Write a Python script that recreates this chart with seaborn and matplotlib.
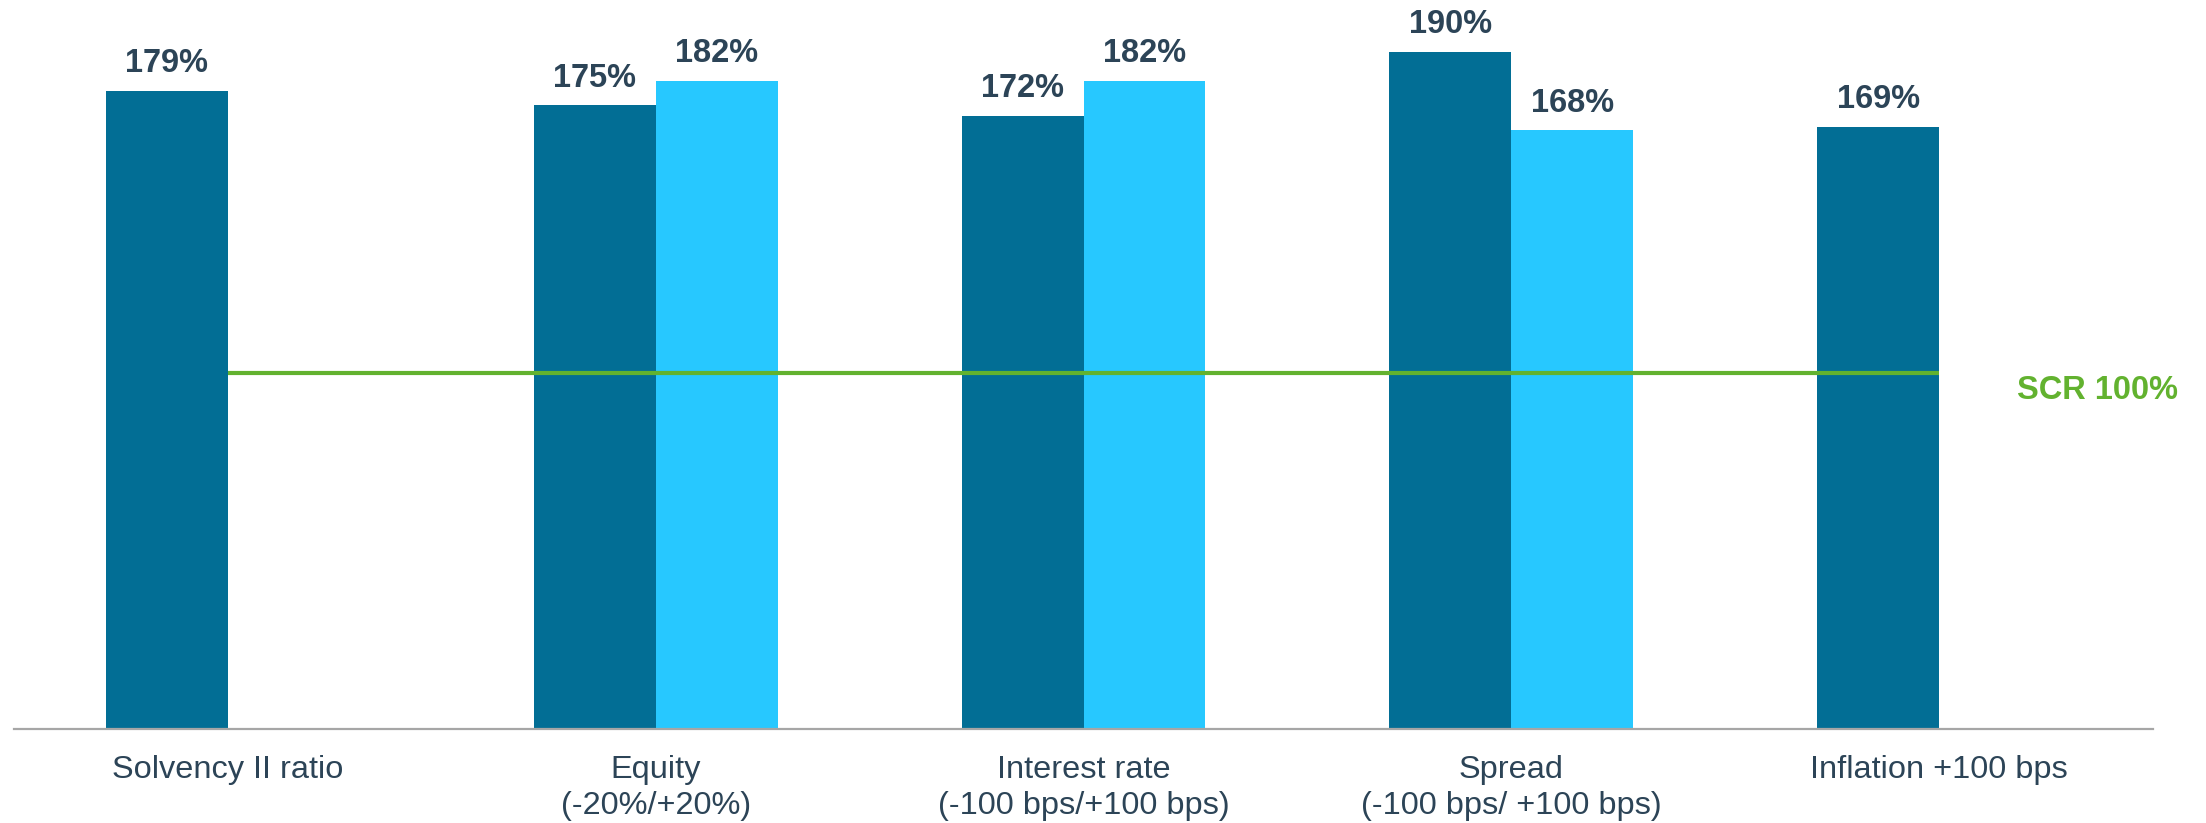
import matplotlib
matplotlib.use("Agg")
import matplotlib.pyplot as plt
import seaborn as sns
import pandas as pd

# ---- data ----
categories = ["Solvency II ratio", "Equity\n(-20%/+20%)", "Interest rate\n(-100 bps/+100 bps)",
              "Spread\n(-100 bps/ +100 bps)", "Inflation +100 bps"]
shock_down = [179, 175, 172, 190, 169]          # dark bars
shock_up = [None, 182, 182, 168, None]          # light bars
scr_level = 100
scr_label = "SCR 100%"

rows = []
for c, d, u in zip(categories, shock_down, shock_up):
    rows.append({"cat": c, "scenario": "down", "value": d})
    if u is not None:
        rows.append({"cat": c, "scenario": "up", "value": u})
df = pd.DataFrame(rows)

sns.set_theme(style="white")
plt.rcParams["font.family"] = ["Liberation Sans", "DejaVu Sans"]

DARK = "#026E95"
LIGHT = "#27C8FF"
GREEN = "#62B22F"
TEXT = "#2C4457"

fig = plt.figure(figsize=(22.06, 8.23), dpi=100)
ax = fig.add_axes([14 / 2206, 1 - 729 / 823, 2139 / 2206, 729 / 823])

sns.barplot(data=df, x="cat", y="value", hue="scenario", hue_order=["down", "up"],
            order=categories, palette=[DARK, LIGHT], width=0.57, dodge=True,
            errorbar=None, saturation=1, ax=ax, legend=False, linewidth=0)

for cont in ax.containers:
    ax.bar_label(cont, fmt="%d%%", padding=8.5, fontsize=23.5, fontweight="bold",
                 color=TEXT)

ax.hlines(scr_level, 0, len(categories) - 1, color=GREEN, linewidth=3, zorder=5)
ax.text(4.371, scr_level - 5.0, scr_label, color=GREEN, fontsize=23.5,
        fontweight="bold", ha="center", va="center", clip_on=False)

ax.set_xlim(-0.5, len(categories) - 0.5)
ax.set_ylim(0, 204.6)
ax.set_xlabel("")
ax.set_ylabel("")
ax.set_yticks([])
ax.tick_params(axis="x", length=0, pad=18.5, labelsize=23.4, labelcolor=TEXT)
for lbl in ax.get_xticklabels():
    lbl.set_linespacing(1.28)

for s in ["top", "right", "left"]:
    ax.spines[s].set_visible(False)
ax.spines["bottom"].set_color("#A6A6A6")
ax.spines["bottom"].set_linewidth(1.6)

fig.savefig("out.png", dpi=100)
